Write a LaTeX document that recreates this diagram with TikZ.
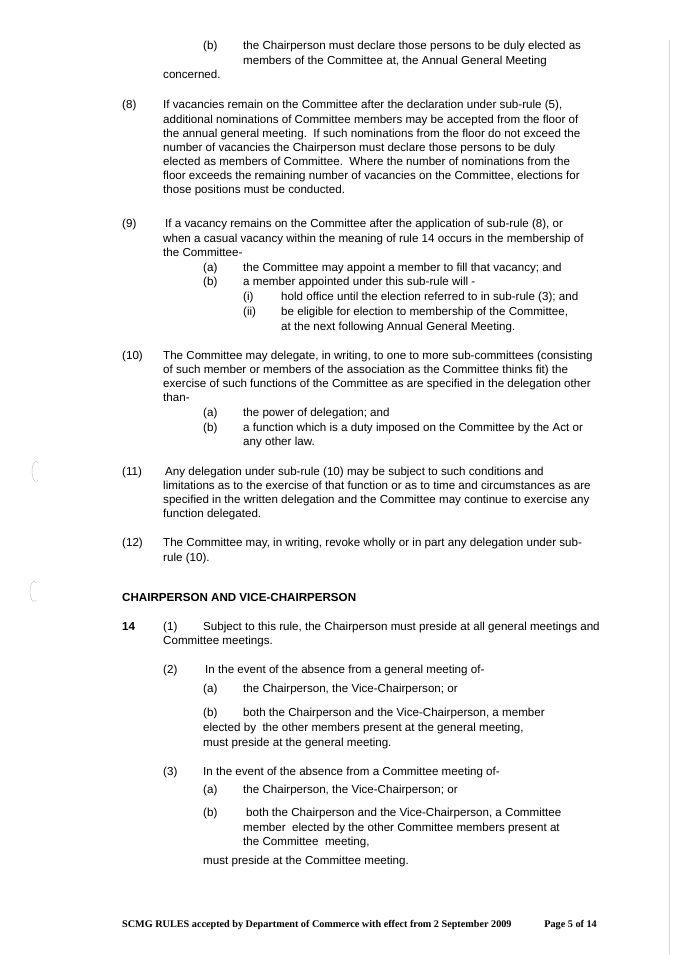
\documentclass[tikz,border=0pt]{standalone}
\usepackage{fontspec}
\setmainfont{Liberation Sans}
\newfontfamily\footfont{Liberation Serif}
\begin{document}
\begin{tikzpicture}[x=1pt,y=-1pt,every node/.style={anchor=mid west,inner sep=0pt,font=\fontsize{11.6}{13}\selectfont}]
\useasboundingbox[fill=white] (0,0) rectangle (675,955);
\draw[gray!30,line width=0.6pt] (669,40) -- (669,955);
\draw[gray!50] (38,480) arc (60:300:4 and 10);
\draw[gray!50] (36,600) arc (60:300:4 and 10);
% top
\node (t1) at (203,47) {(b)}; \node (t2) at (243,47) {the Chairperson must declare those persons to be duly elected as};
\node (t3) at (243,62) {members of the Committee at, the Annual General Meeting};
\node (t4) at (163,76) {concerned.};
% (8)
\node (e0) at (122,106) {(8)};
\node at (163,106) {If vacancies remain on the Committee after the declaration under sub-rule (5),};
\node at (163,121) {additional nominations of Committee members may be accepted from the floor of};
\node at (163,135) {the annual general meeting.\ \ If such nominations from the floor do not exceed the};
\node at (163,149) {number of vacancies the Chairperson must declare those persons to be duly};
\node at (163,163) {elected as members of Committee.\ \ Where the number of nominations from the};
\node at (163,177) {floor exceeds the remaining number of vacancies on the Committee, elections for};
\node at (163,191) {those positions must be conducted.};
% (9)
\node at (122,225) {(9)};
\node at (165,225) {If a vacancy remains on the Committee after the application of sub-rule (8), or};
\node at (163,240) {when a casual vacancy within the meaning of rule 14 occurs in the membership of};
\node at (163,254) {the Committee-};
\node at (203,269) {(a)}; \node at (243,269) {the Committee may appoint a member to fill that vacancy; and};
\node at (203,283) {(b)}; \node at (243,283) {a member appointed under this sub-rule will -};
\node at (243,298) {(i)}; \node at (281,298) {hold office until the election referred to in sub-rule (3); and};
\node at (243,313) {(ii)}; \node at (281,313) {be eligible for election to membership of the Committee,};
\node at (281,328) {at the next following Annual General Meeting.};
% (10)
\node at (122,357) {(10)};
\node at (163,357) {The Committee may delegate, in writing, to one to more sub-committees (consisting};
\node at (163,371) {of such member or members of the association as the Committee thinks fit) the};
\node at (163,385) {exercise of such functions of the Committee as are specified in the delegation other};
\node at (163,399) {than-};
\node at (203,414) {(a)}; \node at (243,414) {the power of delegation; and};
\node at (203,429) {(b)}; \node at (243,429) {a function which is a duty imposed on the Committee by the Act or};
\node at (243,443) {any other law.};
% (11)
\node at (122,473) {(11)};
\node at (165,473) {Any delegation under sub-rule (10) may be subject to such conditions and};
\node at (163,487) {limitations as to the exercise of that function or as to time and circumstances as are};
\node at (163,501) {specified in the written delegation and the Committee may continue to exercise any};
\node at (163,515) {function delegated.};
% (12)
\node at (122,544) {(12)};
\node at (163,544) {The Committee may, in writing, revoke wholly or in part any delegation under sub-};
\node at (163,559) {rule (10).};
% heading
\node[font=\fontsize{11.6}{13}\selectfont\bfseries] at (122,599) {CHAIRPERSON AND VICE-CHAIRPERSON};
\node[font=\fontsize{11.6}{13}\selectfont\bfseries] at (122,628) {14};
\node at (163,628) {(1)}; \node at (203,628) {Subject to this rule, the Chairperson must preside at all general meetings and};
\node at (163,642) {Committee meetings.};
\node at (163,671) {(2)}; \node at (205,671) {In the event of the absence from a general meeting of-};
\node at (203,690) {(a)}; \node at (243,690) {the Chairperson, the Vice-Chairperson; or};
\node at (203,714) {(b)}; \node at (243,714) {both the Chairperson and the Vice-Chairperson, a member};
\node at (203,729) {elected by\ \ the other members present at the general meeting,};
\node at (203,744) {must preside at the general meeting.};
\node at (163,773) {(3)}; \node at (203,773) {In the event of the absence from a Committee meeting of-};
\node at (203,791) {(a)}; \node at (243,791) {the Chairperson, the Vice-Chairperson; or};
\node at (203,814) {(b)}; \node at (246,814) {both the Chairperson and the Vice-Chairperson, a Committee};
\node at (243,829) {member\ \ elected by the other Committee members present at};
\node at (243,843) {the Committee\ \ meeting,};
\node at (203,862) {must preside at the Committee meeting.};
% footer
\node[font=\footfont\fontsize{10.2}{12}\selectfont\bfseries] at (122,925) {SCMG RULES accepted by Department of Commerce with effect from 2 September 2009};
\node[font=\footfont\fontsize{10.2}{12}\selectfont\bfseries,anchor=mid east] at (597,925) {Page 5 of 14};
\end{tikzpicture}
\end{document}
